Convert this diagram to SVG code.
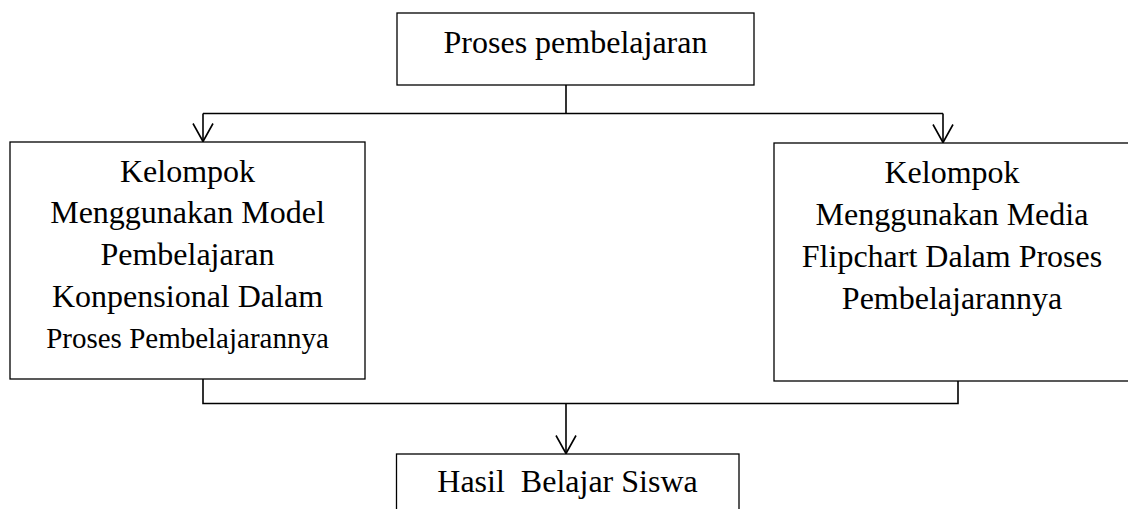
<svg xmlns="http://www.w3.org/2000/svg" width="1128" height="509" viewBox="0 0 1128 509">
  <style>
    .box { fill: #ffffff; stroke: #000000; stroke-width: 1.3; }
    .t { font-family: "Liberation Serif", "Times New Roman", serif; font-size: 32px; fill: #000000; text-anchor: middle; }
    .ts { font-size: 29px; }
    .line { fill: none; stroke: #000000; stroke-width: 1.6; }
  </style>
  <defs>
    <marker id="arr" markerUnits="userSpaceOnUse" markerWidth="22" markerHeight="24" viewBox="0 0 22 24" refX="19" refY="12" orient="auto" overflow="visible">
      <path d="M1,2 L19,12 L1,22" fill="none" stroke="#000000" stroke-width="1.6"/>
    </marker>
  </defs>
  <rect width="1128" height="509" fill="#ffffff"/>

  <g id="connectors">
    <path class="line" d="M566,85 L566,113.5"/>
    <path class="line" d="M203,113.5 L943,113.5"/>
    <path class="line" d="M203,113.5 L203,141.5" marker-end="url(#arr)"/>
    <path class="line" d="M943,113.5 L943,142.5" marker-end="url(#arr)"/>
    <path class="line" d="M203,379 L203,403.5 L958,403.5 L958,381"/>
    <path class="line" d="M566,403.5 L566,453.5" marker-end="url(#arr)"/>
  </g>

  <g id="node-proses">
    <rect class="box" x="397" y="13" width="357" height="72"/>
    <text class="t" x="575.5" y="53">Proses pembelajaran</text>
  </g>

  <g id="node-konvensional">
    <rect class="box" x="10" y="142" width="355" height="237"/>
    <text class="t" x="187.5" y="182">Kelompok</text>
    <text class="t" x="187.5" y="223">Menggunakan Model</text>
    <text class="t" x="187.5" y="265">Pembelajaran</text>
    <text class="t" x="187.5" y="307">Konpensional Dalam</text>
    <text class="t ts" x="187.5" y="348">Proses Pembelajarannya</text>
  </g>

  <g id="node-flipchart">
    <rect class="box" x="774" y="143" width="356" height="238"/>
    <text class="t" x="952" y="183">Kelompok</text>
    <text class="t" x="952" y="225">Menggunakan Media</text>
    <text class="t" x="952" y="267">Flipchart Dalam Proses</text>
    <text class="t" x="952" y="309">Pembelajarannya</text>
  </g>

  <g id="node-hasil">
    <rect class="box" x="396.5" y="454" width="342.5" height="70"/>
    <text class="t" x="567.5" y="492" xml:space="preserve">Hasil  Belajar Siswa</text>
  </g>
</svg>
